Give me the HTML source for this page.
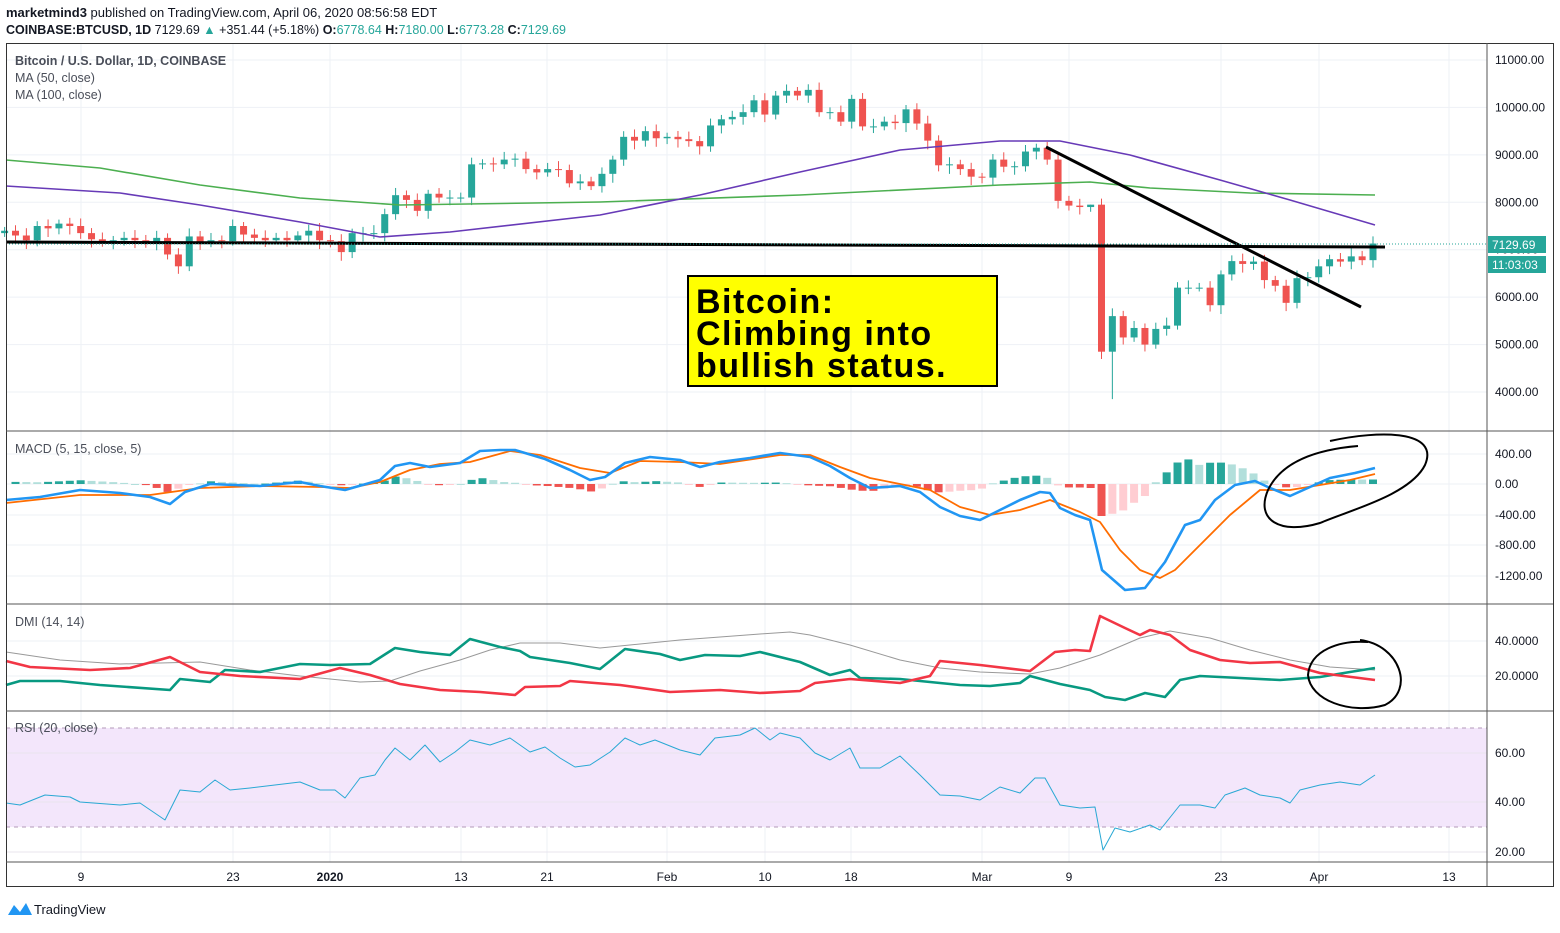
<!DOCTYPE html>
<html><head><meta charset="utf-8"><style>
body{margin:0;background:#fff;width:1560px;height:928px;overflow:hidden;font-family:"Liberation Sans",sans-serif}
svg text{font-family:"Liberation Sans",sans-serif}
</style></head><body>
<svg id="s" width="1560" height="928" xmlns="http://www.w3.org/2000/svg"></svg>
<script>
const S=document.getElementById('s');let h='';
const X0=6,XR=1487,XE=1553;
h+=`<text x="6" y="17" font-size="13" fill="#131722"><tspan font-weight="bold">marketmind3</tspan> published on TradingView.com, April 06, 2020 08:56:58 EDT</text>`;
h+=`<text x="6" y="34" font-size="12.5" fill="#131722"><tspan font-weight="bold">COINBASE:BTCUSD, 1D</tspan> 7129.69 <tspan fill="#26a69a">▲</tspan> +351.44 (+5.18%) <tspan font-weight="bold">O:</tspan><tspan fill="#26a69a">6778.64</tspan> <tspan font-weight="bold">H:</tspan><tspan fill="#26a69a">7180.00</tspan> <tspan font-weight="bold">L:</tspan><tspan fill="#26a69a">6773.28</tspan> <tspan font-weight="bold">C:</tspan><tspan fill="#26a69a">7129.69</tspan></text>`;
const vx=[81,233,330,461,547,667,765,851,982,1069,1221,1319,1449];
const vl=['9','23','2020','13','21','Feb','10','18','Mar','9','23','Apr','13'];
vx.forEach(x=>h+=`<line x1="${x}" y1="43" x2="${x}" y2="862" stroke="#eef1f6"/>`);
const py=p=>60+(11000-p)*0.04743;
for(let p=4000;p<=11000;p+=1000){const y=py(p);h+=`<line x1="6" y1="${y}" x2="${XR}" y2="${y}" stroke="#eef1f6"/><text x="1495" y="${y+4}" font-size="12" fill="#131722">${p}.00</text>`;}
[[454,'400.00'],[484,'0.00'],[515,'-400.00'],[545,'-800.00'],[576,'-1200.00']].forEach(a=>{h+=`<line x1="6" y1="${a[0]}" x2="${XR}" y2="${a[0]}" stroke="#eef1f6"/><text x="1495" y="${a[0]+4}" font-size="12" fill="#131722">${a[1]}</text>`});
[[641,'40.0000'],[676,'20.0000']].forEach(a=>{h+=`<line x1="6" y1="${a[0]}" x2="${XR}" y2="${a[0]}" stroke="#eef1f6"/><text x="1495" y="${a[0]+4}" font-size="12" fill="#131722">${a[1]}</text>`});
h+=`<rect x="6" y="728" width="${XR-6}" height="99" fill="#f3e6fb"/>`;
h+=`<line x1="6" y1="728" x2="${XR}" y2="728" stroke="#b39ab8" stroke-dasharray="4,4"/><line x1="6" y1="827" x2="${XR}" y2="827" stroke="#b39ab8" stroke-dasharray="4,4"/>`;
[[753,'60.00'],[802,'40.00'],[852,'20.00']].forEach(a=>{h+=`<line x1="6" y1="${a[0]}" x2="${XR}" y2="${a[0]}" stroke="#e8e4ee"/><text x="1495" y="${a[0]+4}" font-size="12" fill="#131722">${a[1]}</text>`});
const C=[7400,7300,7200,7500,7450,7550,7500,7350,7220,7180,7200,7250,7200,7150,7250,6900,6650,7280,7150,7200,7180,7500,7320,7250,7200,7250,7200,7300,7400,7200,7180,6950,7350,7350,7350,7750,8150,8050,7820,8180,8100,8100,8100,8800,8820,8800,8900,8920,8700,8630,8700,8680,8400,8440,8340,8600,8900,9380,9300,9500,9350,9380,9330,9290,9180,9620,9750,9800,9900,10150,9850,10250,10350,10250,10370,9900,9900,9700,10180,9600,9600,9700,9670,9960,9660,9300,8780,8800,8700,8540,8520,8900,8750,8760,9070,9150,8900,8030,7930,7900,7950,4850,5600,5150,5350,5000,5330,5400,6200,6200,6200,5830,6480,6760,6700,6750,6360,6240,5880,6400,6420,6650,6800,6750,6860,6780,7130];
const n=C.length;const cx=i=>1373-(n-1-i)*10.86;
let prev=7350;
for(let i=0;i<n;i++){const o=prev,c=C[i];const up=c>=o;const col=up?'#26a69a':'#ef5350';
let hi=Math.max(o,c)+80+((i*37)%90),lo=Math.min(o,c)-80-((i*53)%110);
if(i==n-25)lo=3850; if(i==n-27)hi=7950;
const x=cx(i);h+=`<line x1="${x}" y1="${py(hi)}" x2="${x}" y2="${py(lo)}" stroke="${col}"/>`;
const y1=py(Math.max(o,c)),y2=py(Math.min(o,c));h+=`<rect x="${x-3.5}" y="${y1}" width="7" height="${Math.max(1,y2-y1)}" fill="${col}"/>`;prev=c;}
const pl=(pts,col,w)=>`<polyline fill="none" stroke="${col}" stroke-width="${w}" stroke-linejoin="round" points="${pts.map(p=>p.join(',')).join(' ')}"/>`;
h+=pl([[6,160],[100,168],[200,185],[300,198],[400,205],[600,202],[800,195],[1000,185],[1090,182],[1150,188],[1250,193],[1375,195]],'#4caf50',1.6);
h+=pl([[6,186],[120,193],[200,205],[300,222],[380,237],[450,232],[600,215],[700,195],[800,172],[900,150],[1000,141],[1060,141],[1130,155],[1220,180],[1290,200],[1375,225]],'#673ab7',1.6);
h+=pl([[6,242],[1385,247]],'#000',3);
h+=pl([[1046,147],[1361,307]],'#000',3);
h+=`<line x1="6" y1="244" x2="${XR}" y2="244" stroke="#26a69a" stroke-dasharray="1,2"/>`;
h+=`<rect x="1488" y="236" width="58" height="17" fill="#26a69a"/><text x="1492" y="249" font-size="12" fill="#fff">7129.69</text>`;
h+=`<rect x="1488" y="256" width="58" height="17" fill="#26a69a"/><text x="1492" y="269" font-size="12" fill="#fff">11:03:03</text>`;
h+=`<rect x="688" y="276" width="309" height="110" fill="#ffff00" stroke="#000" stroke-width="2"/>`;
h+=`<text font-size="34" font-weight="bold" fill="#000" letter-spacing="1.5"><tspan x="696" y="313">Bitcoin:</tspan><tspan x="696" y="345">Climbing into</tspan><tspan x="696" y="377">bullish status.</tspan></text>`;
h+=`<text x="15" y="65" font-size="12.5" fill="#4a4e59" font-weight="bold">Bitcoin / U.S. Dollar, 1D, COINBASE</text><text x="15" y="82" font-size="12.5" fill="#4a4e59">MA (50, close)</text><text x="15" y="99" font-size="12.5" fill="#4a4e59">MA (100, close)</text>`;
const B=[[6,500],[40,497],[80,490],[120,493],[150,497],[170,504],[185,492],[210,484],[260,486],[300,482],[320,486],[345,490],[380,480],[395,466],[410,463],[430,467],[460,463],[480,451],[500,450],[515,450],[545,459],[570,470],[590,480],[605,477],[625,463],[650,457],[680,460],[700,467],[720,462],[750,458],[780,453],[810,457],[830,466],[850,478],[870,488],[900,486],[920,492],[940,507],[960,516],[980,520],[1000,510],[1020,500],[1040,492],[1050,493],[1060,508],[1075,515],[1090,520],[1102,570],[1125,590],[1145,588],[1165,562],[1185,525],[1200,520],[1215,500],[1235,485],[1255,481],[1270,488],[1290,496],[1310,487],[1330,478],[1355,473],[1375,468]];
const O=[[6,503],[80,495],[150,495],[200,488],[260,486],[320,487],[350,488],[380,482],[410,470],[440,464],[470,462],[510,451],[540,455],[580,468],[610,473],[640,461],[680,462],[720,464],[780,455],[810,455],[840,467],[870,478],[900,484],[930,490],[960,507],[990,515],[1020,510],[1050,500],[1080,512],[1100,522],[1120,550],[1140,570],[1160,578],[1175,570],[1200,545],[1230,515],[1260,490],[1290,490],[1320,485],[1350,480],[1375,474]];
const it=(a,x)=>{for(let i=1;i<a.length;i++)if(x<=a[i][0]){const t=(x-a[i-1][0])/(a[i][0]-a[i-1][0]);return a[i-1][1]+t*(a[i][1]-a[i-1][1]);}return a[a.length-1][1]};
let ph=0;
for(let i=0;i<n;i++){const x=cx(i);if(x<6)continue;let v=(it(O,x)-it(B,x))*0.75;if(v<-32)v=-32;const g=v>=0;const grow=Math.abs(v)>=Math.abs(ph);
const col=g?(grow?'#26a69a':'#b2dfdb'):(grow?'#ef5350':'#ffcdd2');const y=g?484-v:484;h+=`<rect x="${x-4}" y="${y}" width="8" height="${Math.max(1,Math.abs(v))}" fill="${col}"/>`;ph=v;}
h+=pl(O,'#ff6d00',1.8)+pl(B,'#2196f3',2.6);
h+=`<text x="15" y="453" font-size="12.5" fill="#4a4e59">MACD (5, 15, close, 5)</text>`;
h+=`<path d="M1330,441 C1380,430 1440,430 1425,465 C1410,495 1350,510 1320,523 C1280,535 1255,520 1268,490 C1280,465 1310,450 1358,446" fill="none" stroke="#000" stroke-width="2"/>`;
h+=pl([[6,652],[60,660],[120,664],[160,663],[200,662],[250,670],[300,676],[360,682],[390,681],[420,671],[460,660],[490,650],[520,643],[560,643],[600,648],[640,644],[680,640],[720,637],[760,634],[790,632],[810,635],[850,645],[900,660],[940,668],[980,672],[1030,674],[1060,668],[1100,655],[1140,638],[1170,631],[1210,638],[1250,650],[1290,660],[1330,667],[1375,670]],'#999',1);
h+=pl([[6,685],[20,681],[60,681],[100,685],[170,690],[180,679],[210,682],[225,670],[260,672],[300,664],[330,665],[370,664],[395,648],[420,652],[450,655],[470,639],[500,647],[520,651],[530,657],[570,663],[600,669],[625,649],[660,654],[680,660],[705,655],[740,656],[760,652],[800,662],[830,675],[850,670],[860,678],[900,679],[930,682],[960,685],[990,686],[1020,683],[1030,676],[1060,684],[1090,690],[1105,697],[1125,700],[1145,693],[1165,697],[1180,680],[1200,676],[1240,678],[1280,680],[1320,677],[1350,672],[1375,668]],'#089981',2.6);
h+=pl([[6,661],[30,667],[90,670],[130,668],[170,657],[200,672],[240,676],[300,679],[340,668],[370,675],[400,684],[440,690],[480,692],[515,695],[525,687],[560,686],[570,681],[620,685],[670,692],[720,690],[760,693],[800,691],[815,683],[850,679],[900,683],[930,676],[940,661],[980,665],[1030,671],[1055,652],[1075,650],[1090,651],[1100,616],[1125,628],[1140,635],[1150,630],[1170,635],[1190,650],[1220,660],[1250,663],[1280,662],[1320,673],[1375,680]],'#f23645',2.6);
h+=`<text x="15" y="626" font-size="12.5" fill="#4a4e59">DMI (14, 14)</text>`;
h+=`<path d="M1360,640 C1400,645 1415,690 1385,705 C1350,715 1310,700 1308,675 C1310,650 1340,640 1368,642" fill="none" stroke="#000" stroke-width="2"/>`;
h+=pl([[6,803],[20,805],[45,795],[70,797],[80,802],[120,805],[140,803],[165,820],[180,790],[200,792],[215,780],[230,790],[250,788],[300,782],[320,790],[335,790],[345,798],[360,778],[375,775],[385,760],[395,748],[410,760],[425,745],[440,762],[455,752],[470,740],[490,745],[510,738],[530,752],[545,747],[560,758],[575,767],[590,765],[610,752],[625,738],[640,745],[655,740],[680,750],[700,755],[715,738],[740,735],[755,728],[770,740],[780,733],[800,738],[815,753],[830,760],[850,748],[860,768],[880,768],[900,756],[920,775],[940,795],[960,796],[980,800],[1000,787],[1020,793],[1035,778],[1045,778],[1060,805],[1080,808],[1095,807],[1103,850],[1115,828],[1130,832],[1150,825],[1160,830],[1180,805],[1200,805],[1215,808],[1225,795],[1245,788],[1260,795],[1280,798],[1290,803],[1300,790],[1320,785],[1340,782],[1360,785],[1375,775]],'#29a8d4',1);
h+=`<text x="15" y="732" font-size="12.5" fill="#4a4e59">RSI (20, close)</text>`;
h+=`<rect x="6.5" y="43.5" width="1547" height="843" fill="none" stroke="#333" stroke-width="1"/>`;
[431,604,711].forEach(y=>h+=`<line x1="6" y1="${y}" x2="${XE}" y2="${y}" stroke="#555"/>`);
h+=`<line x1="6" y1="862" x2="${XE}" y2="862" stroke="#555"/><line x1="${XR}" y1="43" x2="${XR}" y2="886" stroke="#555"/>`;
vx.forEach((x,i)=>h+=`<text x="${x}" y="881" font-size="12" text-anchor="middle" fill="#131722" ${vl[i]=='2020'?'font-weight="bold"':''}>${vl[i]}</text>`);
h+=`<path d="M8,915 L14,905 L20,912 L26,903 L32,915 Z" fill="#2196f3"/><text x="34" y="914" font-size="13" fill="#131722">TradingView</text>`;
S.innerHTML=h;
</script>
</body></html>
